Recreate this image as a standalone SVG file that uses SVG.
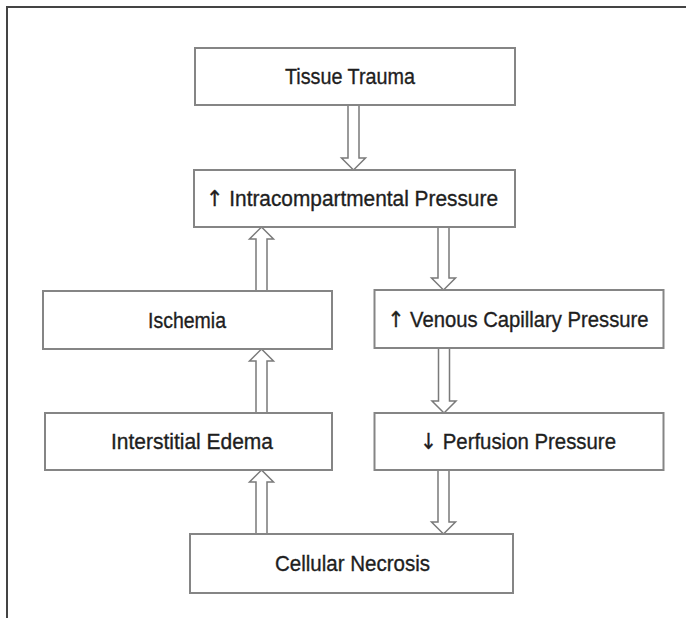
<svg xmlns="http://www.w3.org/2000/svg" width="686" height="618" viewBox="0 0 686 618">
<style>
.box{fill:#fff;stroke:#858585;stroke-width:2}
.lbl{font-family:"Liberation Sans","Open Sans",sans-serif;font-size:22px;fill:#1e1e1e;text-anchor:middle;stroke:#1e1e1e;stroke-width:0.35}
.sym{font-family:"DejaVu Sans",sans-serif}
.arr{fill:#fff;stroke:#7a7a7a;stroke-width:1.5;stroke-linejoin:miter}
.frame{fill:none;stroke:#444;stroke-width:2}
</style>
<rect width="686" height="618" fill="#fff"/>
<path class="frame" d="M7,618 V7 H686"/>
<g id="connectors">
<polygon class="arr" points="348,105 359,105 359,158 365.5,158 353.5,170 341.5,158 348,158"/>
<polygon class="arr" points="438,227 449,227 449,278 455.5,278 443.5,290 431.5,278 438,278"/>
<polygon class="arr" points="438.5,348 449.5,348 449.5,401 456,401 444,413 432,401 438.5,401"/>
<polygon class="arr" points="438,470 449,470 449,522 455.5,522 443.5,534 431.5,522 438,522"/>
<polygon class="arr" points="256,534 267,534 267,482 273.5,482 261.5,470 249.5,482 256,482"/>
<polygon class="arr" points="256,413 267,413 267,361 273.5,361 261.5,349 249.5,361 256,361"/>
<polygon class="arr" points="256,291 267,291 267,239 273.5,239 261.5,227 249.5,239 256,239"/>
</g>
<g id="tissue-trauma">
<rect class="box" x="195" y="48" width="320" height="57"/>
<text class="lbl" x="350" y="84" textLength="130" lengthAdjust="spacingAndGlyphs">Tissue Trauma</text>
</g>
<g id="intracompartmental-pressure">
<rect class="box" x="194" y="170" width="321" height="57"/>
<text class="lbl" x="352" y="206" textLength="292" lengthAdjust="spacingAndGlyphs"><tspan class="sym">↑</tspan> Intracompartmental Pressure</text>
</g>
<g id="ischemia">
<rect class="box" x="43" y="291" width="289" height="58"/>
<text class="lbl" x="187" y="328" textLength="78" lengthAdjust="spacingAndGlyphs">Ischemia</text>
</g>
<g id="venous-capillary-pressure">
<rect class="box" x="374.5" y="290" width="289" height="58"/>
<text class="lbl" x="518" y="327" textLength="261" lengthAdjust="spacingAndGlyphs"><tspan class="sym">↑</tspan> Venous Capillary Pressure</text>
</g>
<g id="interstitial-edema">
<rect class="box" x="45" y="413" width="287" height="57"/>
<text class="lbl" x="192" y="449" textLength="162" lengthAdjust="spacingAndGlyphs">Interstitial Edema</text>
</g>
<g id="perfusion-pressure">
<rect class="box" x="374.5" y="413" width="289" height="57"/>
<text class="lbl" x="518" y="449" textLength="196" lengthAdjust="spacingAndGlyphs"><tspan class="sym">↓</tspan> Perfusion Pressure</text>
</g>
<g id="cellular-necrosis">
<rect class="box" x="190" y="534" width="323" height="59"/>
<text class="lbl" x="352.5" y="571" textLength="155" lengthAdjust="spacingAndGlyphs">Cellular Necrosis</text>
</g>
</svg>
